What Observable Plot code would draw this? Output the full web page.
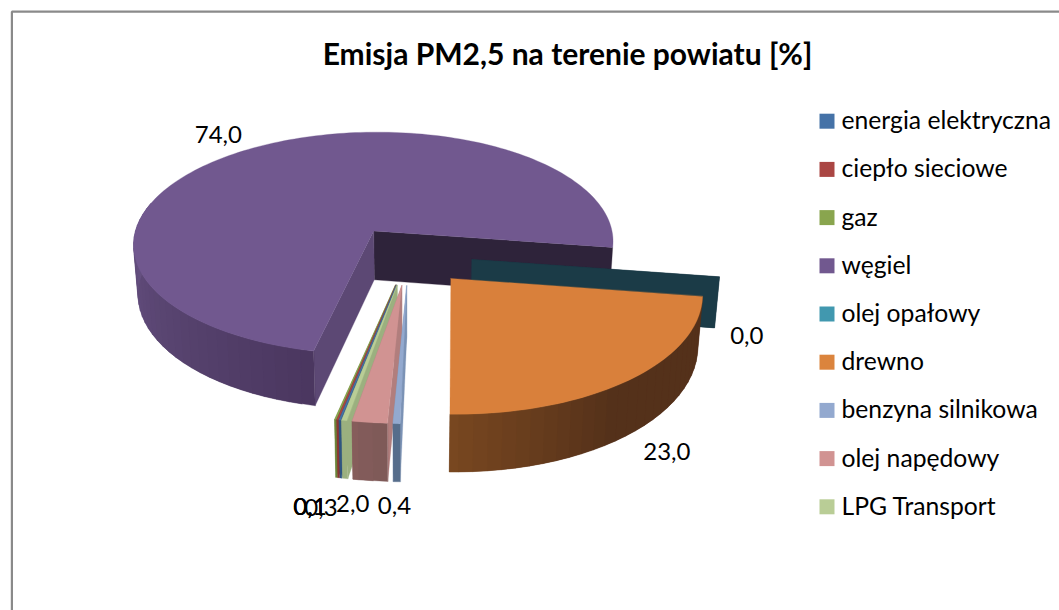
<!DOCTYPE html>
<html><head><meta charset="utf-8">
<script src="https://cdn.jsdelivr.net/npm/d3@7"></script>
<script src="https://cdn.jsdelivr.net/npm/@observablehq/plot@0.6"></script>
<style>html,body{margin:0;padding:0;background:#fff}svg{display:block}</style>
</head><body><div id="chart"></div>
<script>
const title = "Emisja PM2,5 na terenie powiatu [%]";
const categories = ["energia elektryczna","ciepło sieciowe","gaz","węgiel","olej opałowy","drewno","benzyna silnikowa","olej napędowy","LPG Transport"];
const values = [0.1,0.1,0.1,74.0,0.0,23.0,0.4,2.0,0.3];
const labelTexts = ["0,1","0,1","0,1","74,0","0,0","23,0","0,4","2,0","0,3"];
const topColors  = ["#4572A7","#AA4643","#89A54E","#71588F","#4198AF","#D9803B","#93A9CF","#D19392","#B9CD96"];
const rimNear    = ["#2f5580","#8a3533","#6b8439","#4b3760","#1b3b47","#7a4820","#566d8b","#7f5a58","#9bb07f"];
const rimFar     = ["#2f5580","#8a3533","#6b8439","#6a5586","#1b3b47","#54311a","#566d8b","#875d5c","#9bb07f"];
const wallStart  = ["#35597f","#8a3533","#6b8439","#5c4874","#1b3b47","#6b3e1c","#7b92b5","#b17e7d","#9bb07f"];
const wallEnd    = ["#35597f","#8a3533","#6b8439","#2e233a","#1b3b47","#6b3e1c","#7b92b5","#b17e7d","#9bb07f"];
const labelDx = [-5,-2,1,9,-68,-42,2,-3,0];
const labelDy = [-38,-38,-38,16,0,-32,-45,-45,-38];

const W = 1059, H = 610;
const deg = Math.PI/180;
const cx = 409, cy = 255, R = 244, kR = 115, persp = 0.112, explode = 0.26, depth = 50, shrink = 0.984;
const pieStart = 191;

const arcs = d3.pie().sort(null).value(d=>d)
  .startAngle(pieStart*deg).endAngle((pieStart+360)*deg)(values)
  .map(d=>{
    const wrap = d.startAngle>=2*Math.PI-1e-9 ? 2*Math.PI : 0;
    return {startAngle:d.startAngle-wrap, endAngle:d.endAngle-wrap};
  });

function proj(a, r, mid, z){
  const X = explode*Math.sin(mid) + r*Math.sin(a);
  const Y = -(explode*Math.cos(mid) + r*Math.cos(a));
  const s = 1/(1-persp*Y);
  return [cx + R*X*s*(z?shrink:1), cy + kR*Y*s + (z?depth*s:0)];
}

const rows = [];
let id = 0;
function ribbon(pairs, fill){
  id++;
  for (const [a,b] of pairs) rows.push({id, x1:a[0], y1:a[1], x2:b[0], y2:b[1], fill});
}
function angleSteps(a0,a1,step){
  const out=[]; for(let a=a0;a<a1-1e-9;a+=step) out.push(a); out.push(a1); return out;
}
function drawSlice(i){
  const {startAngle:a, endAngle:b} = arcs[i];
  const mid=(a+b)/2;
  const wall=(t,col)=>ribbon([[proj(t,0,mid,0),proj(t,0,mid,1)],[proj(t,1,mid,0),proj(t,1,mid,1)]],col);
  if (categories[i]!=="drewno"){ // the wood slice's side walls face away from the viewer
    wall(b,wallEnd[i]);
    wall(a,wallStart[i]);
  }
  if (b-a<=1e-6) return;
  const lo=Math.max(a,90*deg), hi=Math.min(b,285*deg);
  if (hi>lo){
    const span=hi-lo;
    const steps=angleSteps(lo,hi,3*deg);
    const shade=d3.interpolateRgb(rimNear[i],rimFar[i]);
    const n=steps.length;
    for(let k=0;k<n-1;k++){
      const t= i===5 ? Math.min(1,Math.abs(hi-steps[k])/(span*0.45)) : (steps[k]-lo)/span;
      const e=steps[Math.min(k+2,n-1)];
      ribbon([[proj(steps[k],1,mid,0),proj(steps[k],1,mid,1)],[proj(e,1,mid,0),proj(e,1,mid,1)]],shade(t));
    }
  }
  const apex=proj(a,0,mid,0);
  ribbon(angleSteps(a,b,1.5*deg).map(t=>[apex,proj(t,1,mid,0)]),topColors[i]);
}
[3,4,5,2,1,0,8,7,6].forEach(drawSlice);

const labelR = 1.4;
const labelData = arcs.map((d,i)=>{
  const mid=(d.startAngle+d.endAngle)/2;
  const front=Math.cos(mid)<0.5;
  const p=proj(mid,labelR,mid,front?1:0);
  return {text:labelTexts[i], x:p[0]+labelDx[i], y:p[1]+labelDy[i]};
});

const legendX = 819, legendSide = 15, legendTop = 120.7, legendStep = 48.2;
const legend = categories.map((name,i)=>({name,color:topColors[i]==="#D9803B"?"#DB843D":topColors[i],y:legendTop+i*legendStep}));

const frameColor="#8a8a8a", font="Lato";
const plot = Plot.plot({
  width:W, height:H, margin:0,
  x:{domain:[0,W],range:[0,W],axis:null},
  y:{domain:[0,H],range:[0,H],axis:null},
  color:{type:"identity"},
  style:{background:"#fff"},
  marks:[
    Plot.line([[11.4,H],[11.4,11.2],[W,11.2]],{stroke:frameColor,strokeWidth:2.2,strokeLinejoin:"miter"}),
    Plot.area(rows,{x1:"x1",y1:"y1",x2:"x2",y2:"y2",z:"id",fill:"fill",stroke:"fill",strokeWidth:0.3,curve:"linear"}),
    Plot.text([title],{x:()=>567,y:()=>55,text:d=>d,fontFamily:font,fontWeight:"bold",fontSize:30,fill:"#000",textAnchor:"middle",lineAnchor:"middle"}),
    Plot.text(labelData,{x:"x",y:"y",text:"text",fontFamily:font,fontSize:24,fill:"#000",textAnchor:"middle",lineAnchor:"middle"}),
    Plot.dot(legend,{x:()=>legendX+legendSide/2,y:"y",symbol:"square",r:legendSide/Math.sqrt(Math.PI),fill:"color"}),
    Plot.text(legend,{x:()=>841,y:"y",text:"name",fontFamily:font,fontSize:24.7,fill:"#000",textAnchor:"start",lineAnchor:"middle"})
  ]
});
document.getElementById("chart").append(plot);
</script></body></html>
